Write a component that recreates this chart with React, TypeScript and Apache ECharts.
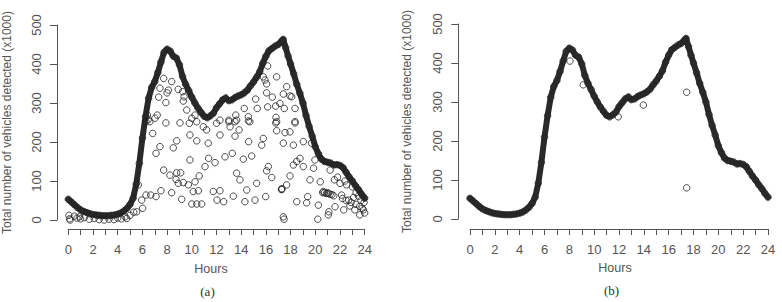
import React, { useEffect, useRef } from "react";
import * as echarts from "echarts";

// Smoothed daily profile (hour, vehicles x1000)
const curvePoints: [number, number][] = [
  [0, 53], [0.25, 46], [0.5, 39], [0.75, 32], [1, 26], [1.25, 22], [1.5, 19], [1.75, 16],
  [2, 14], [2.25, 13], [2.5, 12], [2.75, 11], [3, 11], [3.25, 11], [3.5, 12], [3.75, 13],
  [4, 15], [4.25, 18], [4.5, 23], [4.75, 30], [5, 40], [5.25, 56], [5.5, 92], [5.75, 145],
  [6, 210], [6.25, 265], [6.5, 312], [6.75, 340], [7, 355], [7.25, 378], [7.5, 405], [7.75, 430],
  [8, 438], [8.25, 433], [8.5, 420], [8.75, 415], [9, 398], [9.25, 368], [9.5, 348], [9.75, 332],
  [10, 315], [10.25, 300], [10.5, 287], [10.75, 276], [11, 266], [11.25, 262], [11.5, 267], [11.75, 274],
  [12, 288], [12.25, 298], [12.5, 308], [12.75, 313], [13, 306], [13.25, 308], [13.5, 314], [13.75, 318],
  [14, 321], [14.25, 326], [14.5, 333], [14.75, 344], [15, 354], [15.25, 366], [15.5, 380], [15.75, 402],
  [16, 420], [16.25, 434], [16.5, 440], [16.75, 446], [17, 450], [17.25, 458], [17.4, 463], [17.6, 442],
  [17.8, 420], [18, 400], [18.25, 375], [18.5, 348], [18.75, 325], [19, 300], [19.25, 268], [19.5, 240],
  [19.75, 215], [20, 188], [20.25, 170], [20.5, 156], [20.75, 150], [21, 148], [21.25, 146], [21.5, 141],
  [21.75, 142], [22, 140], [22.25, 134], [22.5, 122], [22.75, 110], [23, 100], [23.25, 88], [23.5, 78],
  [23.75, 66], [24, 56],
];

// Raw readings (panel a) that fall off the main profile
const rawScatter: [number, number][] = [
  [0.05, 12], [0.1, 3], [0.15, 0], [0.5, 10], [0.7, 5], [0.9, 8], [1.0, 3], [1.3, 6], [1.7, 2],
  [2.1, 4], [2.5, 1], [2.9, 0], [3.3, 2], [3.7, 1], [4.0, 5], [4.3, 3], [4.6, 8], [4.73, 4],
  [5.0, 12], [5.3, 20], [5.54, 21], [5.67, 90], [5.94, 51], [6.02, 30],
  [6.29, 252], [6.6, 252], [6.4, 269], [6.48, 258], [7.02, 261], [7.2, 269], [7.32, 315], [7.42, 338],
  [7.72, 363], [8.37, 355], [8.1, 333], [8.0, 326], [7.9, 301], [8.9, 335], [9.26, 329], [9.37, 316],
  [9.31, 305], [9.59, 282], [7.9, 249], [9.04, 249], [10.0, 261], [10.26, 269], [9.8, 248], [10.4, 252],
  [10.93, 239], [11.2, 231], [9.85, 218], [10.4, 203], [11.33, 197], [8.78, 203], [6.83, 222], [7.42, 188],
  [7.1, 171], [8.5, 185], [9.85, 154], [11.36, 158], [11.07, 137], [7.72, 128], [8.23, 115], [8.78, 121],
  [9.1, 121], [8.72, 104], [8.9, 94], [9.31, 96], [9.72, 90], [10.26, 98], [10.6, 113], [7.5, 75],
  [8.37, 70], [10.12, 73], [10.53, 75], [9.18, 53], [10.0, 41], [10.4, 41], [10.8, 41], [11.74, 73],
  [6.29, 64], [6.67, 64], [7.1, 60],
  [12.0, 248], [13.0, 252], [13.5, 252], [14.7, 252], [16.8, 249], [18.36, 249], [13.1, 239], [13.83, 231],
  [16.87, 229], [17.55, 224], [17.95, 226], [12.28, 218], [13.5, 215], [14.6, 201], [15.79, 209], [15.66, 192],
  [17.41, 197], [18.22, 192], [19.03, 201], [19.7, 197], [13.28, 171], [12.69, 162], [14.85, 164], [14.17, 156],
  [11.88, 147], [18.76, 158], [18.5, 150], [18.22, 141], [19.03, 137], [16.2, 137], [16.06, 126], [19.97, 154],
  [19.86, 133], [13.63, 120], [13.9, 103], [15.25, 94], [16.47, 109], [17.95, 113], [19.57, 103], [20.4, 98],
  [21.55, 103], [22.0, 94], [22.54, 90], [21.2, 128], [12.28, 75], [14.45, 77], [17.28, 79], [17.3, 80],
  [17.26, 78], [17.68, 90], [12.04, 51], [12.58, 47], [13.36, 61], [14.3, 47], [15.12, 51], [15.98, 60],
  [18.5, 47], [19.38, 60], [19.3, 44], [20.25, 38], [17.41, 8], [17.47, 2], [20.2, 2], [20.65, 73],
  [21.05, 68], [22.13, 64], [21.6, 34], [22.3, 26], [22.8, 36], [23.2, 26], [23.6, 13], [23.9, 26],
  [22.7, 51], [23.1, 58], [23.5, 61], [21.05, 13], [21.1, 21],
  [16.14, 395], [16.87, 367], [15.93, 359], [16.06, 349], [15.79, 367], [17.68, 342], [17.41, 323], [18.09, 316],
  [16.06, 326], [16.52, 315], [15.17, 310], [17.14, 299], [16.79, 292], [16.14, 290], [17.49, 286], [15.3, 286],
  [14.25, 286], [18.36, 286], [16.82, 263], [16.87, 252], [18.36, 252], [14.58, 265], [14.58, 254], [13.56, 269],
  [13.0, 256], [12.28, 256], [13.63, 256], [17.95, 318],
  [20.6, 70], [20.75, 70], [20.9, 68], [21.0, 70], [21.2, 66], [21.35, 65], [21.5, 62],
  [22.2, 55], [22.5, 50], [22.9, 45], [23.3, 40], [23.6, 35], [23.8, 30], [24.0, 18], [23.95, 45], [23.7, 50],
  [21.8, 110], [22.4, 100], [23.0, 85], [23.3, 70],
];

// Filtered readings (panel b) that fall off the main profile
const filteredScatter: [number, number][] = [
  [17.45, 325], [17.45, 80], [13.96, 292], [11.94, 262], [9.12, 344], [8.05, 405],
];

const yTitle = "Total number of vehicles detected (x1000)";
const xTitle = "Hours";

const axisColor = "#555";
const labelColor = "#555";
const pointColor = "#222";
const sans = "'Liberation Sans', Arial, Helvetica, sans-serif";
const serif = "'Liberation Serif', 'Times New Roman', serif";

function makeXAxis(gridIndex: number, offset: number) {
  return {
    type: "value",
    gridIndex,
    min: 0,
    max: 24,
    interval: 2,
    offset,
    axisLine: { show: true, onZero: false, lineStyle: { color: axisColor, width: 1 } },
    axisTick: { show: true, length: 6, lineStyle: { color: axisColor, width: 1 } },
    minorTick: { show: true, splitNumber: 2, length: 6, lineStyle: { color: axisColor, width: 1 } },
    axisLabel: { color: labelColor, fontSize: 13, fontFamily: sans, margin: 14 },
    splitLine: { show: false },
    minorSplitLine: { show: false },
  };
}

function makeYAxis(gridIndex: number, offset: number) {
  return {
    type: "value",
    gridIndex,
    min: 0,
    max: 500,
    interval: 100,
    offset,
    axisLine: { show: true, onZero: false, lineStyle: { color: axisColor, width: 1 } },
    axisTick: { show: true, length: 7, lineStyle: { color: axisColor, width: 1 } },
    axisLabel: { color: labelColor, fontSize: 13, fontFamily: sans, margin: 14, rotate: 90 },
    splitLine: { show: false },
  };
}

function bandSeries(idx: number) {
  return {
    type: "line",
    xAxisIndex: idx,
    yAxisIndex: idx,
    data: curvePoints,
    showSymbol: false,
    clip: false,
    lineStyle: { color: "#2a2a2a", width: 6, cap: "round", join: "round" },
    z: 2,
  };
}

function circleSeries(idx: number, data: [number, number][]) {
  return {
    type: "scatter",
    xAxisIndex: idx,
    yAxisIndex: idx,
    data,
    symbol: "circle",
    symbolSize: 6.5,
    clip: false,
    itemStyle: { color: "rgba(0,0,0,0)", borderColor: pointColor, borderWidth: 1 },
    z: 3,
  };
}

export default function App() {
  const ref = useRef<HTMLDivElement>(null);

  useEffect(() => {
    if (!ref.current) return;
    const chart = echarts.init(ref.current, undefined, { renderer: "svg" });
    chart.setOption({
      animation: false,
      backgroundColor: "#fff",
      grid: [
        { left: 68.3, top: 25, width: 296.4, height: 195 },
        { left: 470, top: 24, width: 298, height: 195 },
      ],
      xAxis: [makeXAxis(0, 9), makeXAxis(1, 10)],
      yAxis: [makeYAxis(0, 11.3), makeYAxis(1, 11.7)],
      series: [
        bandSeries(0),
        circleSeries(0, curvePoints),
        circleSeries(0, rawScatter),
        bandSeries(1),
        circleSeries(1, curvePoints),
        circleSeries(1, filteredScatter),
      ],
      graphic: [
        {
          type: "text", x: 7, y: 122.5, rotation: Math.PI / 2,
          style: { text: yTitle, fontSize: 12, fontFamily: sans, fill: "#555", align: "center", verticalAlign: "middle" },
        },
        {
          type: "text", x: 407, y: 121.5, rotation: Math.PI / 2,
          style: { text: yTitle, fontSize: 12, fontFamily: sans, fill: "#555", align: "center", verticalAlign: "middle" },
        },
        {
          type: "text", x: 211, y: 268.5,
          style: { text: xTitle, fontSize: 12.5, fontFamily: sans, fill: "#555", align: "center", verticalAlign: "middle" },
        },
        {
          type: "text", x: 615, y: 268,
          style: { text: xTitle, fontSize: 12.5, fontFamily: sans, fill: "#555", align: "center", verticalAlign: "middle" },
        },
        {
          type: "text", x: 207.5, y: 291,
          style: { text: "(a)", fontSize: 13, fontFamily: serif, fill: "#333", align: "center", verticalAlign: "middle" },
        },
        {
          type: "text", x: 611.5, y: 290,
          style: { text: "(b)", fontSize: 13, fontFamily: serif, fill: "#333", align: "center", verticalAlign: "middle" },
        },
      ],
    });
    return () => chart.dispose();
  }, []);

  return (
    <div
      ref={ref}
      style={{ position: "fixed", left: 0, top: 0, width: 782, height: 302, background: "#fff" }}
    />
  );
}
